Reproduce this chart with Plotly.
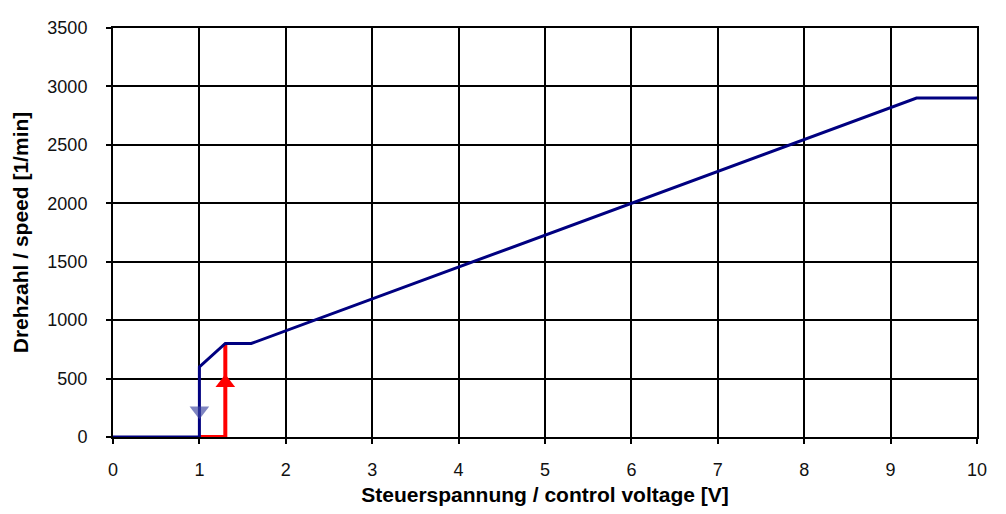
import plotly.graph_objects as go

# data
blue_x = [0, 1, 1, 1.3, 1.6, 9.3, 10]
blue_y = [0, 0, 600, 800, 800, 2900, 2900]
red_x = [1, 1.3, 1.3]
red_y = [0, 0, 800]
arrow_up_x = [1.3]
arrow_up_y = [465]
arrow_down_x = [1.0]
arrow_down_y = [225]
x_ticks = list(range(0, 11))
y_ticks = list(range(0, 3501, 500))

fig = go.Figure()
fig.add_trace(go.Scatter(x=red_x, y=red_y, mode="lines",
                         line=dict(color="#FF0000", width=4), showlegend=False))
fig.add_trace(go.Scatter(x=blue_x, y=blue_y, mode="lines",
                         line=dict(color="#000080", width=3), showlegend=False))
fig.add_trace(go.Scatter(x=arrow_up_x, y=arrow_up_y, mode="markers",
                         marker=dict(symbol="triangle-up", size=17, color="#FF0000",
                                     line=dict(width=0)), showlegend=False))
fig.add_trace(go.Scatter(x=arrow_down_x, y=arrow_down_y, mode="markers",
                         marker=dict(symbol="triangle-down", size=17, color="#3A44A0",
                                     opacity=0.65, line=dict(width=0)), showlegend=False))

fig.update_layout(
    width=998, height=506,
    margin=dict(l=105, r=29, t=10, b=77),
    paper_bgcolor="white", plot_bgcolor="white",
    font=dict(family="Liberation Sans, Arial, sans-serif", color="#000000"),
)
fig.update_xaxes(
    range=[0, 10], tickvals=x_ticks, ticks="outside", ticklen=5, tickcolor="black",
    tickwidth=1.5, showgrid=True, gridcolor="black", gridwidth=1.5,
    showline=True, linecolor="black", linewidth=2, mirror=True, zeroline=False,
    tickfont=dict(size=18, color="#111111"), ticklabelstandoff=10,
    title=dict(text="<b>Steuerspannung / control voltage [V]</b>",
               font=dict(size=21), standoff=9),
)
fig.update_yaxes(
    range=[0, 3500], tickvals=y_ticks, ticks="outside", ticklen=5, tickcolor="black",
    tickwidth=1.5, showgrid=True, gridcolor="black", gridwidth=1.5,
    showline=True, linecolor="black", linewidth=2, mirror=True, zeroline=False,
    tickfont=dict(size=18, color="#111111"), ticklabelstandoff=15,
    title=dict(text="<b>Drehzahl / speed [1/min]</b>", font=dict(size=21), standoff=13),
)

fig.write_html("out.html")
